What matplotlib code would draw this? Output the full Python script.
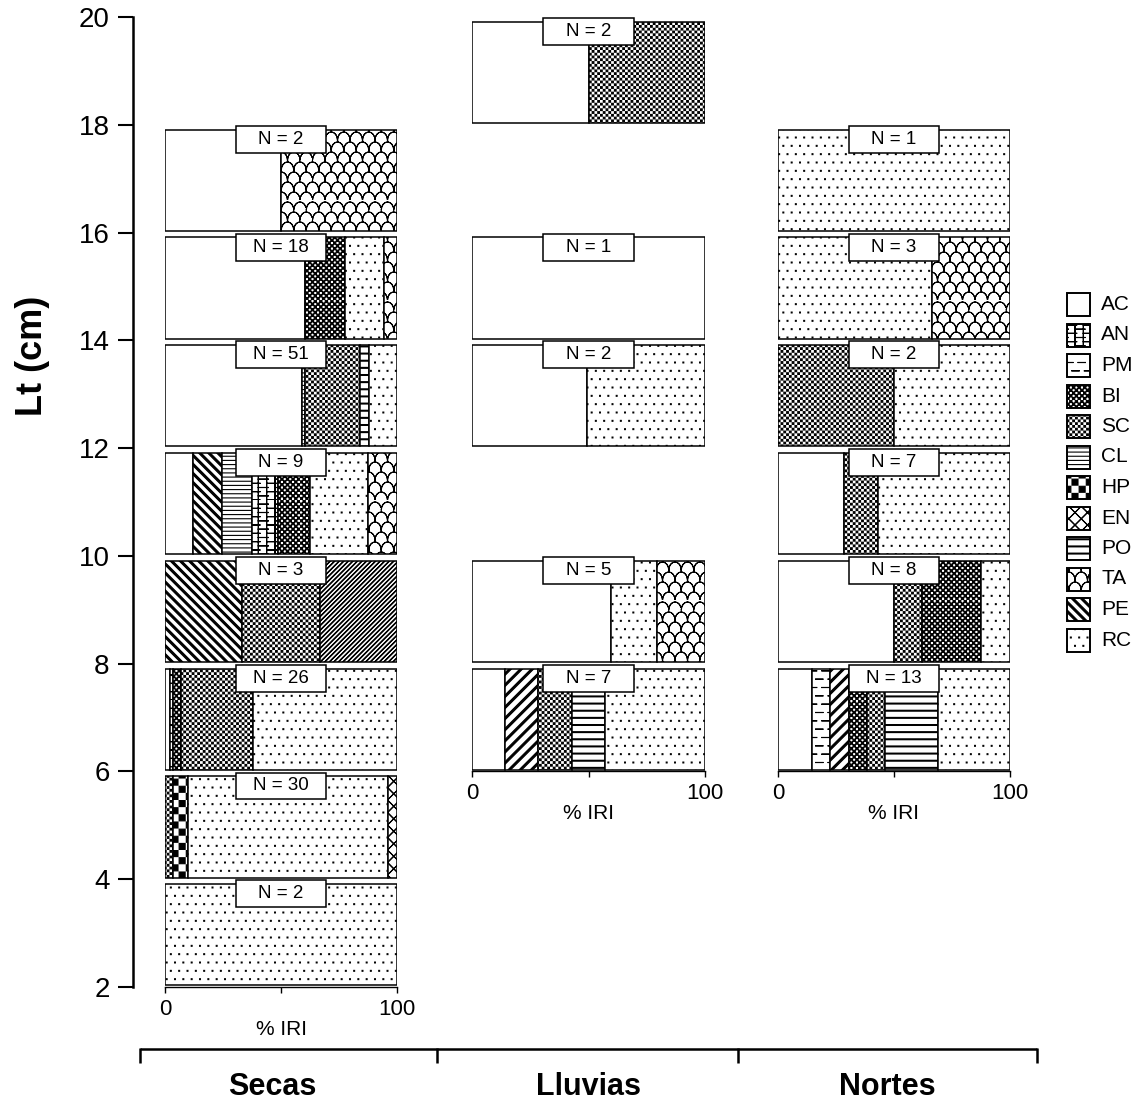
import warnings
import numpy as np
import matplotlib
matplotlib.use('Agg')
import matplotlib.pyplot as plt
import matplotlib.hatch as mhatch
from matplotlib.path import Path
from matplotlib.patches import Rectangle

warnings.filterwarnings('ignore', message='hatch must consist')

plt.rcParams['font.family'] = ['Liberation Sans', 'DejaVu Sans']
plt.rcParams['hatch.linewidth'] = 0.8

# ---------------- datos ----------------
categorias = ['AC', 'AN', 'PM', 'BI', 'SC', 'CL', 'HP', 'EN', 'PO', 'TA', 'PE', 'RC']
estaciones = ['Secas', 'Lluvias', 'Nortes']

# intervalos de talla (limite inferior, cm), N y %IRI por presa
secas_lt = [16, 14, 12, 10, 8, 6, 4, 2]
secas_n = [2, 18, 51, 9, 3, 26, 30, 2]
secas_presas = [
    ['AC', 'TA'],
    ['AC', 'BI', 'RC', 'TA'],
    ['AC', 'CL', 'SC', 'PO', 'RC'],
    ['AC', 'PE', 'CL', 'AN', 'BI', 'RC', 'TA'],
    ['PE', 'SC', 'OT'],
    ['AC', 'AN', 'BI', 'SC', 'RC'],
    ['SC', 'HP', 'RC', 'EN'],
    ['RC'],
]
secas_iri = [
    [50, 50],
    [60.5, 17, 17, 5.5],
    [59, 1.5, 23.5, 4, 12],
    [12, 12.5, 13, 11, 14, 25, 12.5],
    [33.3, 33.4, 33.3],
    [2, 1.5, 3.5, 31, 62],
    [3.5, 6.5, 86, 4],
    [100],
]

lluvias_lt = [18, 14, 12, 8, 6]
lluvias_n = [2, 1, 2, 5, 7]
lluvias_presas = [
    ['AC', 'SC'],
    ['AC'],
    ['AC', 'RC'],
    ['AC', 'RC', 'TA'],
    ['AC', 'PE', 'SC', 'PO', 'RC'],
]
lluvias_iri = [
    [50, 50],
    [100],
    [49.5, 50.5],
    [59.5, 20, 20.5],
    [14.3, 14.2, 14.3, 14.3, 42.9],
]

nortes_lt = [16, 14, 12, 10, 8, 6]
nortes_n = [1, 3, 2, 7, 8, 13]
nortes_presas = [
    ['RC'],
    ['RC', 'TA'],
    ['SC', 'RC'],
    ['AC', 'SC', 'RC'],
    ['AC', 'SC', 'BI', 'RC'],
    ['AC', 'PM', 'PE', 'BI', 'SC', 'PO', 'RC'],
]
nortes_iri = [
    [100],
    [66.5, 33.5],
    [50, 50],
    [28.5, 14.5, 57],
    [50, 12, 25.5, 12.5],
    [14.5, 8, 8, 8, 7.5, 23, 31],
]

datos = {
    'Secas': (secas_lt, secas_n, secas_presas, secas_iri),
    'Lluvias': (lluvias_lt, lluvias_n, lluvias_presas, lluvias_iri),
    'Nortes': (nortes_lt, nortes_n, nortes_presas, nortes_iri),
}


# ---------------- tramas propias (celda de 1 pulgada = 100 px) ----------------
TRAZO = 0.011  # grosor del trazo de trama en unidades de celda


def _trazos(lineas, cerrados=False):
    vs, cs = [], []
    for pl in lineas:
        pl = np.asarray(pl, float)
        if cerrados:
            vs.append(np.vstack([pl, pl[:1]]))
            cs.append([Path.MOVETO] + [Path.LINETO] * (len(pl) - 1) + [Path.CLOSEPOLY])
        else:
            # ida y vuelta: sin area, solo se dibuja el trazo
            ida_vuelta = np.vstack([pl, pl[-2::-1]])
            vs.append(ida_vuelta)
            cs.append([Path.MOVETO] + [Path.LINETO] * (len(ida_vuelta) - 1))
    return np.vstack(vs), np.concatenate(cs).astype(Path.code_type)


def ladrillo(n=12):
    segs = [[(i / n, 0), (i / n, 1)] for i in range(n)]
    for i in range(n):
        for j in range(n):
            y = (j + 0.5 * (i % 2)) / n
            segs.append([(i / n, y), ((i + 1) / n, y)])
    return _trazos(segs)


def guiones(nx=8, ny=12, largo=0.45):
    segs = []
    for j in range(ny):
        y = (j + 0.5) / ny
        for i in range(-1, nx):
            x = (i + 0.5 * (j % 2) + 0.25) / nx
            segs.append([(x, y), (x + largo / nx, y)])
    return _trazos(segs)


def ajedrez(n, lado_px):
    s = lado_px / 100 - TRAZO
    c = (1 / n - s) / 2
    cuadros = []
    for i in range(n):
        for j in range(n):
            if (i + j) % 2 == 0:
                x, y = i / n + c, j / n + c
                cuadros.append([(x, y), (x + s, y), (x + s, y + s), (x, y + s)])
    return _trazos(cuadros, cerrados=True)


def puntos(n=12, lado_px=2.0):
    s = max(lado_px / 100 - TRAZO, 0.001)
    cuadros = []
    for j in range(n):
        for i in range(n + 1):
            x = (i + 0.5 * (j % 2)) / n
            y = (j + 0.5) / n
            cuadros.append([(x - s / 2, y - s / 2), (x + s / 2, y - s / 2),
                            (x + s / 2, y + s / 2), (x - s / 2, y + s / 2)])
    return _trazos(cuadros, cerrados=True)


def escamas(nx=8, ny=10, alto=0.8):
    t = np.linspace(np.pi, 0, 9)
    w, h = 1 / nx, 1 / ny
    arcos = []
    for j in range(ny):
        desp = 0.5 * w * (j % 2)
        for i in range(-1, nx):
            cx = i * w + desp + w / 2
            arcos.append(np.column_stack([cx + w / 2 * np.cos(t), j * h + alto * h * np.sin(t)]))
    return _trazos(arcos)


def rombos(n=8):
    segs = []
    for k in range(-n, n + 1):
        a = k / n
        segs.append([(a, 0), (a + 1, 1)])
        segs.append([(a, 1), (a + 1, 0)])
    return _trazos(segs)


def bandas_h(n=14, grosor=0.9):
    g = grosor / 100
    rects = []
    for j in range(n):
        y = (j + 0.5) / n
        rects.append([(0, y - g / 2), (1, y - g / 2), (1, y + g / 2), (0, y + g / 2)])
    return _trazos(rects, cerrados=True)


def bandas_diag(n, grosor, sentido):
    d = grosor / 100 * np.sqrt(2)
    polys = []
    for k in range(-n, n + 1):
        a = k / n
        if sentido > 0:
            polys.append([(a, 0), (a + d, 0), (a + 1 + d, 1), (a + 1, 1)])
        else:
            polys.append([(a, 1), (a + d, 1), (a + 1 + d, 0), (a + 1, 0)])
    return _trazos(polys, cerrados=True)


PATRONES = {
    'b': ladrillo(),
    'm': guiones(),
    'c': ajedrez(14, 7.1),
    'g': ajedrez(36, 2.8),
    'k': ajedrez(36, 3.4),
    'd': puntos(),
    's': escamas(),
    'e': rombos(),
    'p': bandas_h(),
    'q': bandas_diag(11, 1.9, -1),
    'r': bandas_diag(9, 1.9, 1),
    'f': bandas_diag(22, 0.5, 1),
}


class TramaPropia(mhatch.HatchPatternBase):
    def __init__(self, hatch, density):
        partes = [PATRONES[ch] for ch in hatch if ch in PATRONES]
        if partes:
            self.v = np.vstack([p[0] for p in partes])
            self.c = np.concatenate([p[1] for p in partes])
            self.num_vertices = len(self.v)
        else:
            self.num_vertices = 0

    def set_vertices_and_codes(self, vertices, codes):
        vertices[:] = self.v
        codes[:] = self.c


mhatch._hatch_types.append(TramaPropia)

tramas = {'AC': None, 'AN': 'b', 'PM': 'm', 'BI': 'k', 'SC': 'g', 'CL': '----',
          'HP': 'c', 'EN': 'e', 'PO': 'p', 'TA': 's', 'PE': 'q', 'RC': 'd', 'OT': 'f'}
tramas_estacion = {'Lluvias': {'PE': 'r'}, 'Nortes': {'PE': 'r'}}

# ---------------- figura ----------------
W, H = 1139, 1106
fig = plt.figure(figsize=(W / 100, H / 100), dpi=100)

y_top, y_bot = 17, 987
b = 1 - y_bot / H
h = (y_bot - y_top) / H

# eje de tallas
ax_y = fig.add_axes([133 / W, b, (1040 - 133) / W, h])
ax_y.set_ylim(2, 20)
ax_y.set_yticks(range(2, 21, 2))
ax_y.set_xticks([])
for s in ['top', 'right', 'bottom']:
    ax_y.spines[s].set_visible(False)
ax_y.spines['left'].set_linewidth(1.8)
ax_y.tick_params(axis='y', direction='out', length=10.8, width=1.5, labelsize=20, pad=6)
ax_y.patch.set_visible(False)
fig.text(32 / W, 1 - 356 / H, 'Lt (cm)', rotation=90, fontsize=26, fontweight='bold',
         ha='center', va='center')

paneles = [(165, 397), (472, 705), (778, 1010)]
alto_barra = 1.88

for est, (x0, x1) in zip(estaciones, paneles):
    lts, ns, presas, iris = datos[est]
    ax = fig.add_axes([x0 / W, b, (x1 - x0) / W, h])
    ax.set_xlim(0, 100)
    ax.set_ylim(2, 20)
    ax.patch.set_visible(False)
    for s in ['top', 'right', 'left']:
        ax.spines[s].set_visible(False)
    ax.spines['bottom'].set_position(('data', min(lts)))
    ax.spines['bottom'].set_bounds(0, 100)
    ax.spines['bottom'].set_linewidth(1.0)
    ax.set_yticks([])
    ax.set_xticks([0, 50, 100], ['0', '', '100'])
    ax.tick_params(axis='x', direction='out', length=4.5, width=1.0, labelsize=16, pad=4)
    ax.set_xlabel('% IRI', fontsize=15, labelpad=0)

    for lt, n, cs, vs in zip(lts, ns, presas, iris):
        y0 = lt + 0.03
        izq = 0
        for c, v in zip(cs, vs):
            trama = tramas_estacion.get(est, {}).get(c, tramas[c])
            ax.barh(y0, v, left=izq, height=alto_barra, align='edge', color='white',
                    edgecolor='black', linewidth=1.1, hatch=trama)
            izq += v
        tope = y0 + alto_barra + 0.07
        ax.add_patch(Rectangle((30.5, tope - 0.5), 39, 0.5, facecolor='white',
                               edgecolor='black', linewidth=1.1, clip_on=False, zorder=3))
        ax.text(50, tope - 0.25, f'N = {n}', ha='center', va='center', fontsize=13.5,
                zorder=4, clip_on=False)

# capa en pixeles: llave de estaciones y leyenda
ax_px = fig.add_axes([0, 0, 1, 1])
ax_px.set_xlim(0, W)
ax_px.set_ylim(H, 0)
ax_px.axis('off')

marcas = [140, 437, 738, 1037]
ax_px.plot([marcas[0], marcas[-1]], [1049, 1049], color='black', lw=1.8, solid_capstyle='butt')
for xm in marcas:
    ax_px.plot([xm, xm], [1048, 1063], color='black', lw=1.8, solid_capstyle='butt')
for est, xc in zip(estaciones, [272, 588, 887]):
    ax_px.text(xc, 1087, est, ha='center', va='center', fontsize=22, fontweight='bold')

for i, cat in enumerate(categorias):
    yc = 304.5 + 30.5 * i
    ax_px.add_patch(Rectangle((1067, yc - 11.5), 23, 23, facecolor='white', edgecolor='black',
                              linewidth=1.4, hatch=tramas[cat]))
    ax_px.text(1101, yc, cat, ha='left', va='center', fontsize=15)

fig.savefig('out.png', dpi=100)
